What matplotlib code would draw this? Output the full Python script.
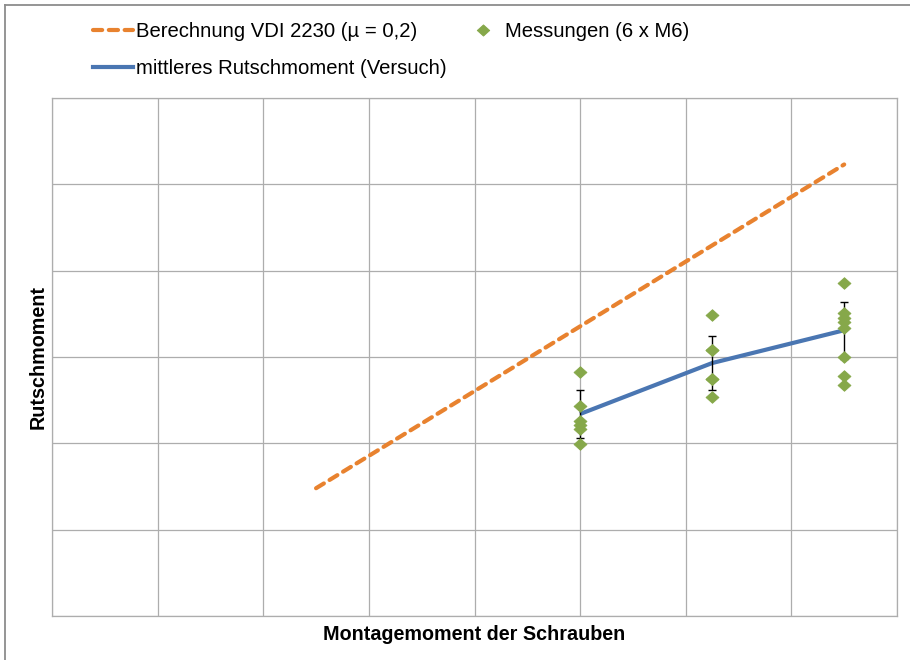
import matplotlib
matplotlib.use("Agg")
import matplotlib.pyplot as plt
from matplotlib.lines import Line2D
from matplotlib.path import Path
import numpy as np

plt.rcParams['font.family'] = ['Liberation Sans', 'DejaVu Sans']

# ---- data (axes carry no tick labels) ----
vdi_x = [5.0, 15.0]
vdi_y = [14.8, 52.3]

mess_x_10 = [10.0] * 6
mess_y_10 = [28.3, 24.3, 22.6, 22.1, 21.7, 19.9]
mess_x_125 = [12.5] * 6
mess_y_125 = [34.9, 30.8, 30.8, 27.5, 27.5, 25.4]
mess_x_15 = [15.0] * 8
mess_y_15 = [38.6, 35.1, 34.5, 34.0, 33.4, 30.0, 27.8, 26.8]

mean_x = [10.0, 12.5, 15.0]
mean_y = [23.4, 29.3, 33.1]
mean_err = [2.8, 3.1, 3.3]

x_ticks = [0, 2, 4, 6, 8, 10, 12, 14, 16]
y_ticks = [0, 10, 20, 30, 40, 50, 60]

label_vdi = "Berechnung VDI 2230 (µ = 0,2)"
label_mess = "Messungen (6 x M6)"
label_mean = "mittleres Rutschmoment (Versuch)"
xlabel = "Montagemoment der Schrauben"
ylabel = "Rutschmoment"

c_orange = '#E8822F'
c_blue = '#4A76B2'
c_green = '#86A84A'
c_grid = '#ADADAD'

# diamond marker, slightly wider than tall (like the Excel marker)
diamond = Path([(-1, 0), (0, 0.9), (1, 0), (0, -0.9), (-1, 0)],
               [Path.MOVETO, Path.LINETO, Path.LINETO, Path.LINETO, Path.CLOSEPOLY])

W, H = 910, 660
fig = plt.figure(figsize=(W / 100, H / 100), dpi=100)
ax = fig.add_axes([52 / W, 1 - 616 / H, (897 - 52) / W, (616 - 98) / H])

ax.set_xlim(x_ticks[0], x_ticks[-1])
ax.set_ylim(y_ticks[0], y_ticks[-1])
ax.set_xticks(x_ticks)
ax.set_yticks(y_ticks)
ax.tick_params(length=0, labelbottom=False, labelleft=False)
ax.grid(True, color=c_grid, linewidth=0.9)
ax.set_axisbelow(True)
for s in ax.spines.values():
    s.set_color(c_grid)
    s.set_linewidth(0.9)

ax.plot(vdi_x, vdi_y, color=c_orange, linewidth=3.0, linestyle=(0, (2.2, 1.6)),
        dash_capstyle='round', zorder=3)
ax.plot(mean_x, mean_y, color=c_blue, linewidth=3.0, zorder=3, solid_capstyle='butt')
ax.errorbar(mean_x, mean_y, yerr=mean_err, fmt='none', ecolor='black', elinewidth=1.0,
            capsize=2.8, capthick=1.0, zorder=4)
mx = mess_x_10 + mess_x_125 + mess_x_15
my = mess_y_10 + mess_y_125 + mess_y_15
ax.plot(mx, my, linestyle='none', marker=diamond, markersize=9.3, color=c_green,
        markeredgecolor=c_green, markeredgewidth=0.6, zorder=5)

h_vdi = Line2D([], [], color=c_orange, linewidth=3.0, linestyle=(0, (2.2, 1.6)), dash_capstyle='round')
h_mess = Line2D([], [], linestyle='none', marker=diamond, markersize=9.0, color=c_green,
                markeredgecolor=c_green, markeredgewidth=0.6)
h_mean = Line2D([], [], color=c_blue, linewidth=3.0)
leg = fig.legend([h_vdi, h_mean, h_mess], [label_vdi, label_mean, label_mess],
                 ncol=2, loc='upper left', bbox_to_anchor=(93 / W, 1 - 22 / H),
                 frameon=False, fontsize=14.6, handlelength=1.95, handletextpad=0.15,
                 columnspacing=0.82, labelspacing=0.9, borderpad=0, borderaxespad=0)

ax.set_xlabel(xlabel, fontsize=14.2, fontweight='bold', labelpad=6.5)
ax.set_ylabel(ylabel, fontsize=14.2, fontweight='bold', labelpad=3.5)

# outer chart frame (left and top edges visible)
fig.add_artist(Line2D([4.5 / W, 4.5 / W], [0, 1 - 4.5 / H], color='#8C8C8C', linewidth=1.3))
fig.add_artist(Line2D([4.5 / W, 1], [1 - 4.5 / H, 1 - 4.5 / H], color='#8C8C8C', linewidth=1.3))

fig.savefig('out.png', dpi=100)
